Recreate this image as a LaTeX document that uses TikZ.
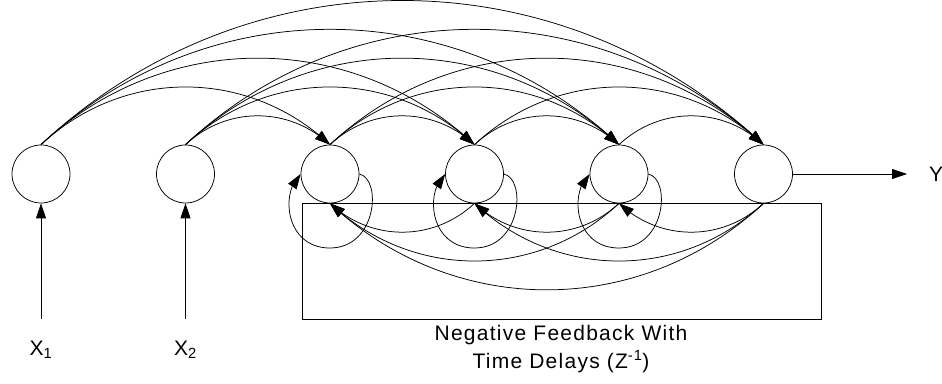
\documentclass[tikz,border=0pt]{standalone}
\usepackage{fontspec}
\setmainfont{Liberation Sans}
\usetikzlibrary{arrows.meta,bending}

\tikzset{
  neuron/.style={circle, draw, line width=0.75pt, minimum size=58pt, inner sep=0pt},
  fwd/.style={line width=0.75pt, -{Triangle[length=15pt,width=10pt]}},
  wire/.style={line width=0.75pt},
  lbl/.style={font=\fontsize{21}{25}\selectfont\addfontfeature{LetterSpace=6}, inner sep=0pt, anchor=base},
}

\begin{document}
\begin{tikzpicture}[x=1pt,y=1pt]
\useasboundingbox (0,0) rectangle (942,383);

% neurons
\node[neuron] (n1) at (41,209) {};
\node[neuron] (n2) at (185.5,209) {};
\node[neuron] (n3) at (330,209) {};
\node[neuron] (n4) at (474.5,209) {};
\node[neuron] (n5) at (619,209) {};
\node[neuron] (n6) at (763.5,209) {};

% feedback box
\node[draw, wire, inner sep=0pt, minimum width=519.5pt, minimum height=116pt, anchor=north west]
  (box) at (301.5,180) {};

% inputs and output
\coordinate (in1) at (41,64);
\coordinate (in2) at (185.5,64);
\coordinate (out) at (907,209);
\draw[fwd] (in1) -- (n1.south);
\draw[fwd] (in2) -- (n2.south);
\draw[fwd] (n6.east) -- (out);

\node[lbl] (x1) at (41,28) {X\textsubscript{1}};
\node[lbl] (x2) at (185.5,28) {X\textsubscript{2}};
\node[lbl, anchor=center] (y) at (936,209) {Y};

% forward connections over the top
\foreach \s/\t in {1/3,1/4,1/5,1/6,2/3,2/4,2/5,2/6,3/4,3/5,3/6,4/5,4/6,5/6}
  \draw[fwd] (n\s.north) to[bend left=43] (n\t.north);

% delayed feedback underneath
\foreach \s/\t in {4/3,5/3,5/4,6/3,6/4,6/5}
  \draw[fwd] (n\s.south) to[bend left=43] (n\t.south);

% self feedback loops
\foreach \i in {3,4,5}
  \draw[fwd] (n\i.east)
    .. controls ([shift={(52,-5)}]n\i.center) and ([shift={(47,-74)}]n\i.center)
    .. ([shift={(0,-74)}]n\i.center)
    .. controls ([shift={(-45,-74)}]n\i.center) and ([shift={(-50,-18)}]n\i.center)
    .. (n\i.west);

% caption of the box
\node[lbl] (capA) at (561,43) {Negative Feedback With};
\node[lbl] (capB) at (561,15) {Time Delays (Z\textsuperscript{-1})};
\end{tikzpicture}
\end{document}
